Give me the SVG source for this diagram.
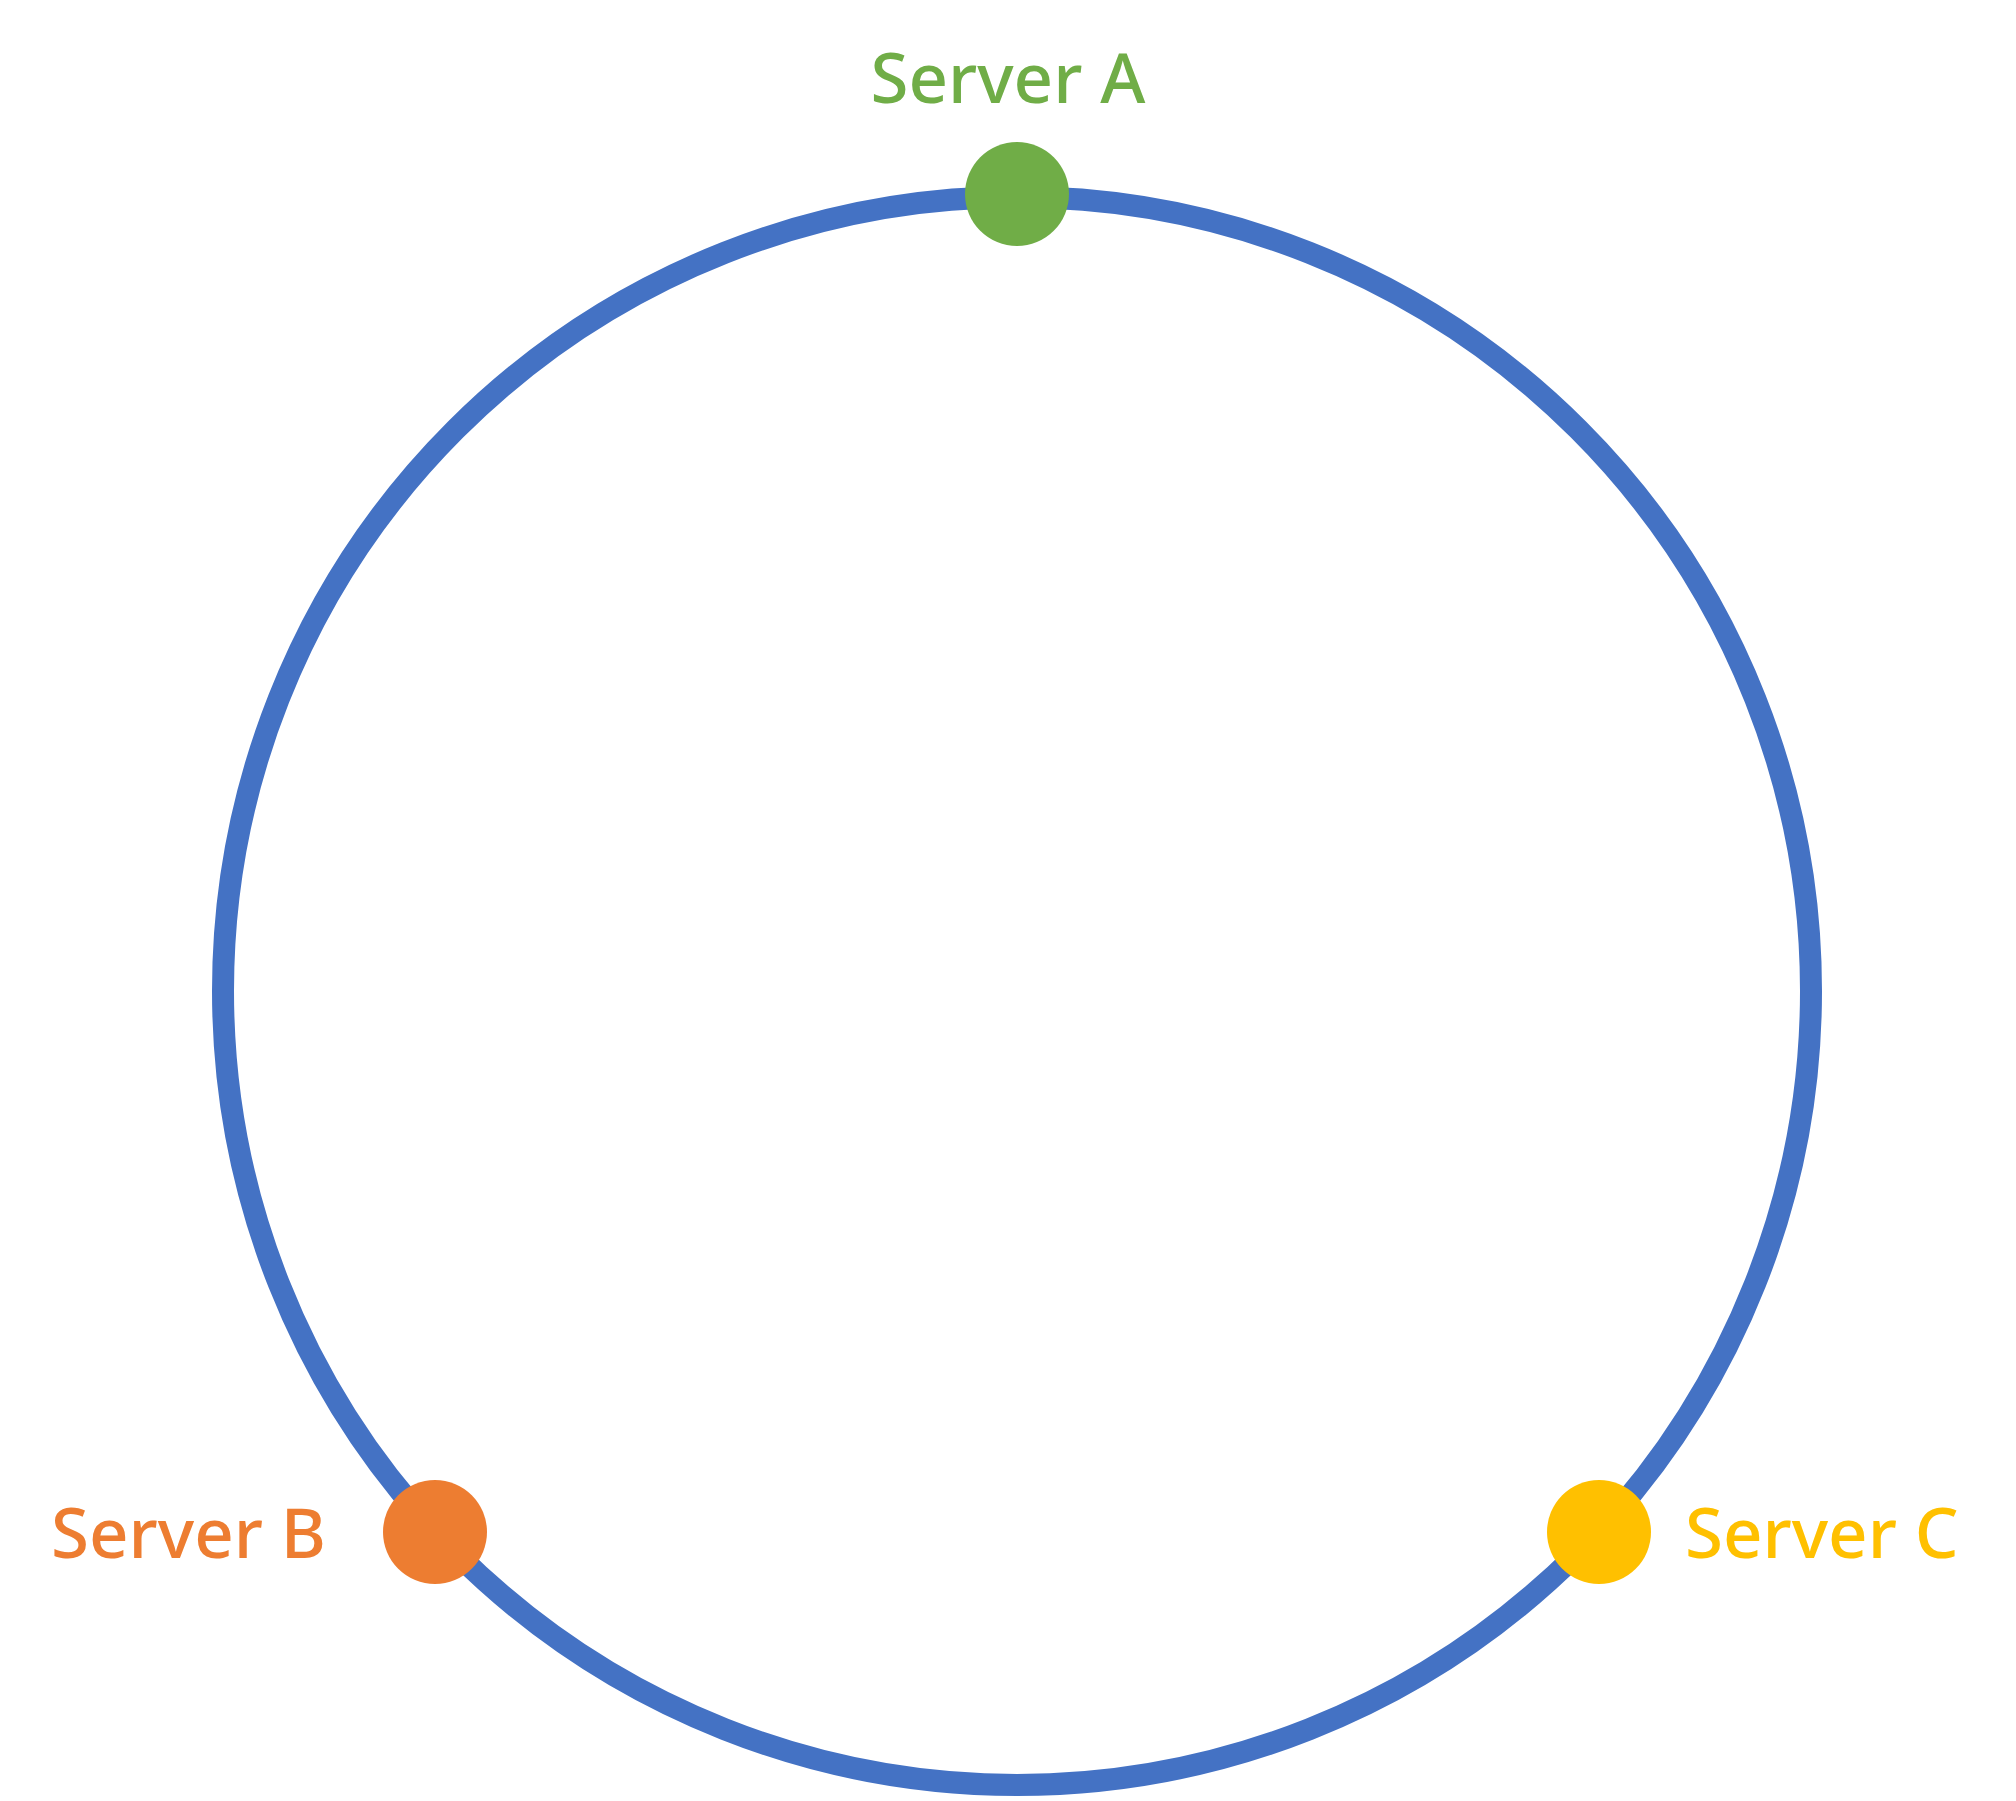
<svg xmlns="http://www.w3.org/2000/svg" width="2016" height="1801" viewBox="0 0 2016 1801">
  <style>
    .ring { fill: none; stroke: #4472C4; stroke-width: 22; }
    .label { font-family: "Noto Sans", "Open Sans", "Liberation Sans", sans-serif; font-size: 69px; font-weight: 500; }
    .a { fill: #70AD47; }
    .b { fill: #ED7D31; }
    .c { fill: #FFC000; }
  </style>
  <rect width="2016" height="1801" fill="#ffffff"/>
  <g id="connectors">
    <circle class="ring" cx="1017" cy="991" r="794"/>
  </g>
  <g id="server-a">
    <circle class="a" cx="1017" cy="194" r="52"/>
    <text class="label a" x="1008" y="103" text-anchor="middle">Server A</text>
  </g>
  <g id="server-b">
    <circle class="b" cx="435" cy="1532" r="52"/>
    <text class="label b" x="326" y="1558" text-anchor="end">Server B</text>
  </g>
  <g id="server-c">
    <circle class="c" cx="1599" cy="1532" r="52"/>
    <text class="label c" x="1685" y="1558">Server C</text>
  </g>
</svg>
